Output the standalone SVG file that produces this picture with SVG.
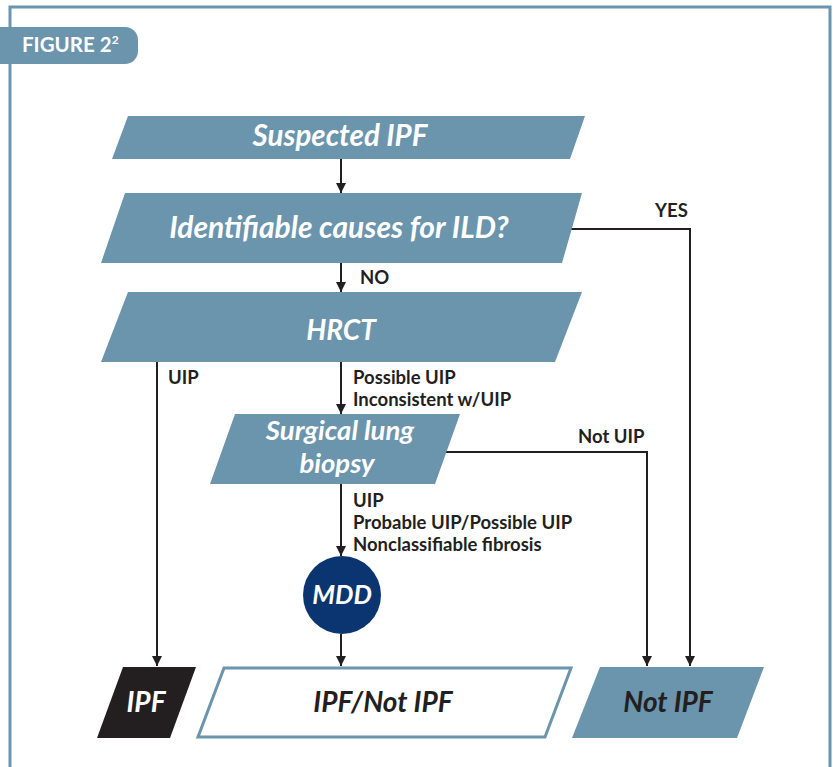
<svg xmlns="http://www.w3.org/2000/svg" width="833" height="767" viewBox="0 0 833 767">
  <style>
    .frame { fill: none; stroke: #6b94ad; stroke-width: 3; }
    .box { fill: #6b94ad; }
    .title { font-family: Lato, "Open Sans", sans-serif; font-weight: 700; font-style: italic; text-anchor: middle; }
    .white { fill: #ffffff; }
    .dark { fill: #231f20; }
    .lbl { font-family: Lato, "Open Sans", sans-serif; font-weight: 700; font-size: 18.5px; fill: #231f20; }
    .wire { fill: none; stroke: #231f20; stroke-width: 2; }
  </style>
  <defs>
    <marker id="arrow" viewBox="0 0 10 10" refX="10" refY="5" markerWidth="10" markerHeight="10" markerUnits="userSpaceOnUse" orient="auto">
      <path d="M0,0 L10,5 L0,10 Z" fill="#231f20"/>
    </marker>
  </defs>

  <rect width="833" height="767" fill="#ffffff"/>

  <!-- outer frame -->
  <path class="frame" d="M10,767 V7 H830 V767"/>

  <!-- figure badge -->
  <g id="badge">
    <rect x="-20" y="27" width="158" height="37" rx="13" fill="#6b94ad"/>
    <text x="22" y="52" font-family="Lato, 'Open Sans', sans-serif" font-weight="700" font-size="20.5" fill="#ffffff">FIGURE 2<tspan font-size="12" dy="-8">2</tspan></text>
  </g>

  <!-- connectors -->
  <g id="connectors">
    <line class="wire" x1="341" y1="159" x2="341" y2="193" marker-end="url(#arrow)"/>
    <line class="wire" x1="341" y1="263" x2="341" y2="292" marker-end="url(#arrow)"/>
    <line class="wire" x1="341" y1="362" x2="341" y2="414" marker-end="url(#arrow)"/>
    <line class="wire" x1="341" y1="484" x2="341" y2="556" marker-end="url(#arrow)"/>
    <line class="wire" x1="341" y1="634" x2="341" y2="666" marker-end="url(#arrow)"/>
    <line class="wire" x1="157" y1="362" x2="157" y2="666" marker-end="url(#arrow)"/>
    <polyline class="wire" points="570,229 690,229 690,666" marker-end="url(#arrow)"/>
    <polyline class="wire" points="444,452 647,452 647,666" marker-end="url(#arrow)"/>

    <text class="lbl" x="655" y="217">YES</text>
    <text class="lbl" x="360" y="284">NO</text>
    <text class="lbl" x="168" y="384">UIP</text>
    <text class="lbl" x="353" y="384">Possible UIP</text>
    <text class="lbl" x="353" y="406">Inconsistent w/UIP</text>
    <text class="lbl" x="578" y="443">Not UIP</text>
    <text class="lbl" x="353" y="507">UIP</text>
    <text class="lbl" x="353" y="529">Probable UIP/Possible UIP</text>
    <text class="lbl" x="353" y="551">Nonclassifiable fibrosis</text>
  </g>

  <!-- nodes -->
  <g id="suspected">
    <polygon class="box" points="128,116 585,116 570,159 112,159"/>
    <text class="title white" x="340" y="146" font-size="29.5">Suspected IPF</text>
  </g>

  <g id="causes">
    <polygon class="box" points="125,193 582,193 562,263 101,263"/>
    <text class="title white" x="339" y="238" font-size="30">Identifiable causes for ILD?</text>
  </g>

  <g id="hrct">
    <polygon class="box" points="128,292 582,292 555,362 101,362"/>
    <text class="title white" x="341" y="340" font-size="28">HRCT</text>
  </g>

  <g id="biopsy">
    <polygon class="box" points="235,414 460,414 435,484 210,484"/>
    <text class="title white" x="340" y="440" font-size="27.5">Surgical lung</text>
    <text class="title white" x="337" y="473" font-size="27.5">biopsy</text>
  </g>

  <g id="mdd">
    <circle cx="342" cy="595" r="39" fill="#0b3571"/>
    <text class="title white" x="342" y="604" font-size="26">MDD</text>
  </g>

  <g id="ipf">
    <polygon points="123,667 196,667 170,738 97,738" fill="#231f20"/>
    <text class="title white" x="146" y="712" font-size="28">IPF</text>
  </g>

  <g id="ipf-not-ipf">
    <polygon points="224,668 571,668 545,737 198,737" fill="#ffffff" stroke="#6b94ad" stroke-width="3"/>
    <text class="title dark" x="383" y="712" font-size="28">IPF/Not IPF</text>
  </g>

  <g id="not-ipf">
    <polygon class="box" points="600,667 764,667 737,738 572,738"/>
    <text class="title dark" x="668" y="712" font-size="28">Not IPF</text>
  </g>
</svg>
